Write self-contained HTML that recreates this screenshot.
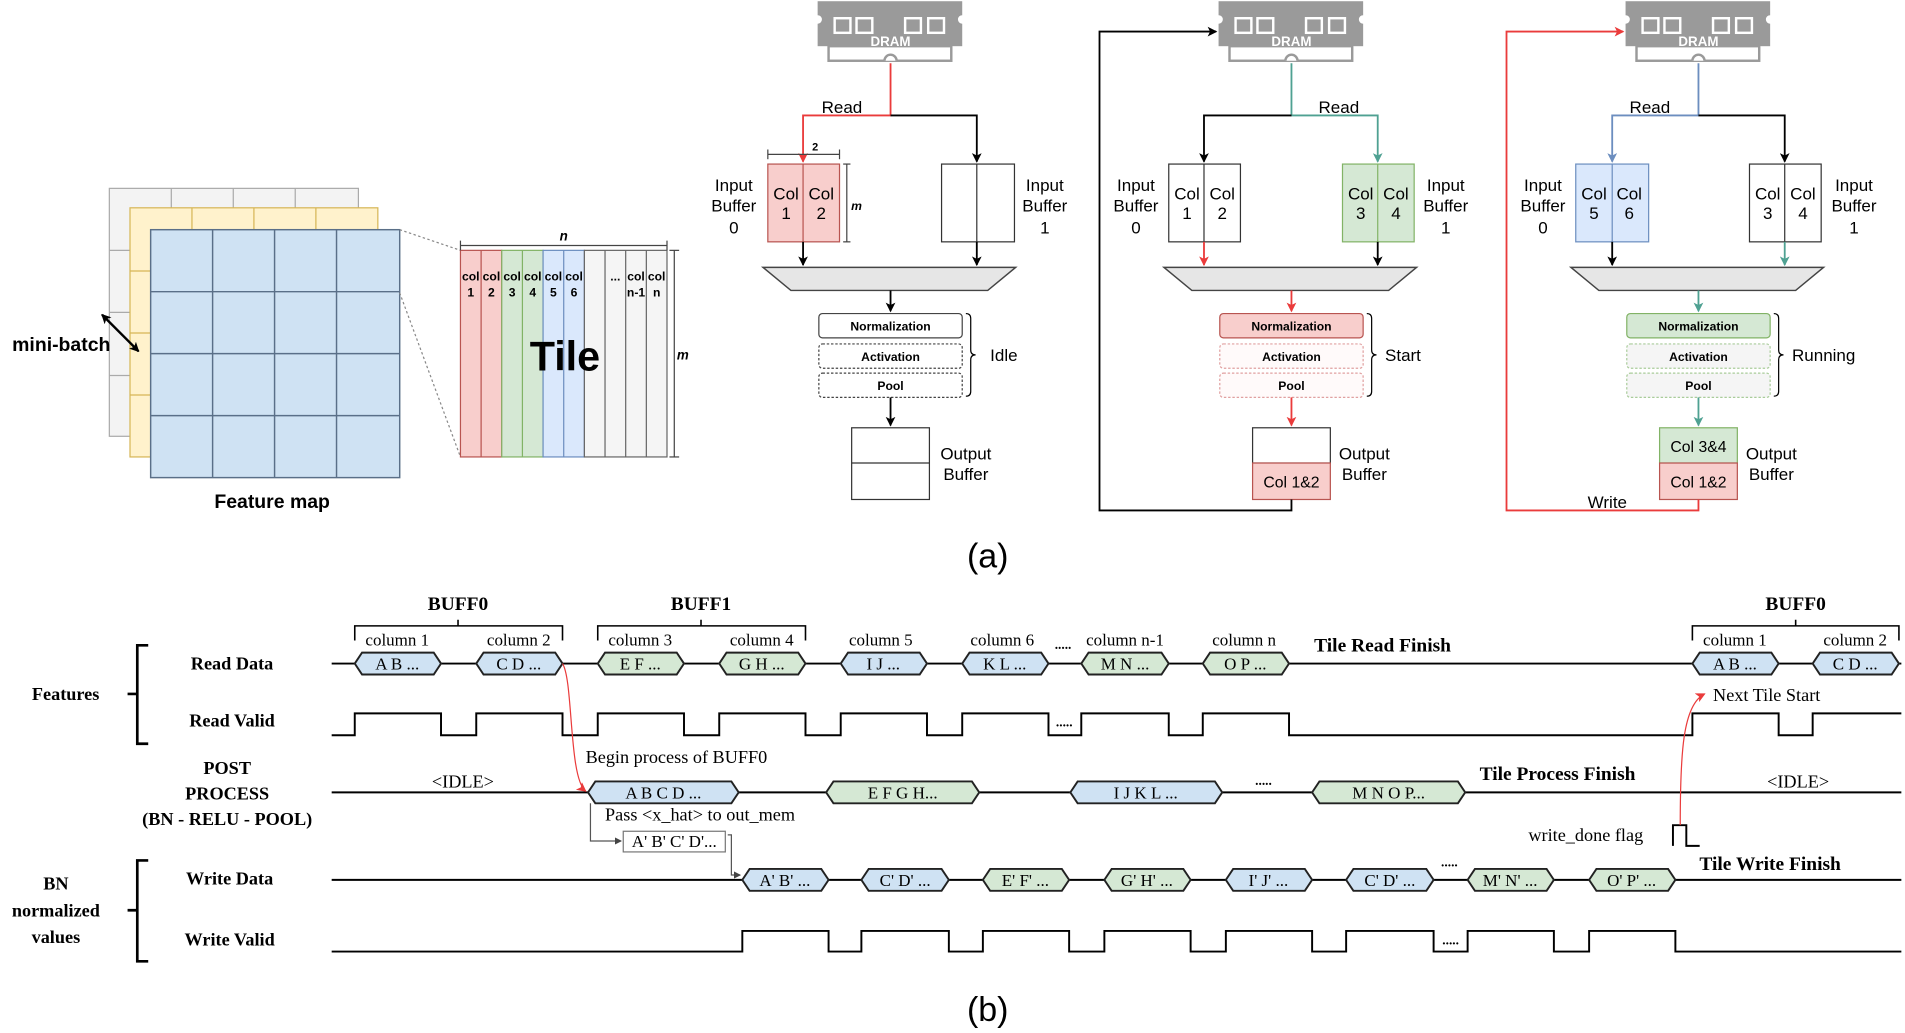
<!DOCTYPE html>
<html><head><meta charset="utf-8"><style>
html,body{margin:0;padding:0;background:#fff;}
svg{display:block;}
.s{font-family:"Liberation Sans",sans-serif;}
.t{font-family:"Liberation Serif",serif;}
</style></head><body>
<svg width="1905" height="1033" viewBox="0 0 1568 850" preserveAspectRatio="none" xmlns="http://www.w3.org/2000/svg">
<defs>
<marker id="ak" markerWidth="8" markerHeight="8" refX="7" refY="4" orient="auto" markerUnits="userSpaceOnUse"><path d="M0,0 L8,4 L0,8 L2,4z" fill="#000"/></marker>
<marker id="ak2" markerWidth="8" markerHeight="8" refX="7" refY="4" orient="auto-start-reverse" markerUnits="userSpaceOnUse"><path d="M0,0 L8,4 L0,8 L2,4z" fill="#000"/></marker>
<marker id="ar" markerWidth="8" markerHeight="8" refX="7" refY="4" orient="auto" markerUnits="userSpaceOnUse"><path d="M0,0 L8,4 L0,8 L2,4z" fill="#ea3b3b"/></marker>
<marker id="ag" markerWidth="8" markerHeight="8" refX="7" refY="4" orient="auto" markerUnits="userSpaceOnUse"><path d="M0,0 L8,4 L0,8 L2,4z" fill="#4fa192"/></marker>
<marker id="ab" markerWidth="8" markerHeight="8" refX="7" refY="4" orient="auto" markerUnits="userSpaceOnUse"><path d="M0,0 L8,4 L0,8 L2,4z" fill="#6c8ebf"/></marker>
<marker id="ay" markerWidth="6" markerHeight="6" refX="5" refY="3" orient="auto" markerUnits="userSpaceOnUse"><path d="M0,0 L6,3 L0,6z" fill="#444"/></marker>
<g id="chip">
<rect x="673" y="1" width="119" height="37" fill="#9a9a9a"/>
<circle cx="673" cy="16" r="3.5" fill="#fff"/><circle cx="792" cy="16" r="3.5" fill="#fff"/>
<rect x="682" y="38" width="101" height="12" fill="#fff" stroke="#9a9a9a" stroke-width="2"/>
<path d="M728,50 a5,5 0 0 1 10,0" fill="#fff" stroke="#9a9a9a" stroke-width="2"/>
<g fill="none" stroke="#fff" stroke-width="2"><rect x="687" y="15" width="13" height="12"/><rect x="705" y="15" width="13" height="12"/><rect x="745" y="15" width="13" height="12"/><rect x="764" y="15" width="13" height="12"/></g>
</g>
<g id="mux"><path d="M628,220 L836,220 L813,239 L651,239z" fill="#e6e6e6" stroke="#444" stroke-width="1.2"/></g>
</defs>

<!-- Feature map -->
<rect x="90" y="155" width="205" height="204" fill="#f3f3f3" stroke="#aaa"/>
<g stroke="#aaa"><line x1="141" y1="155" x2="141" y2="171"/><line x1="192" y1="155" x2="192" y2="171"/><line x1="243" y1="155" x2="243" y2="171"/><line x1="90" y1="206" x2="107" y2="206"/><line x1="90" y1="257" x2="107" y2="257"/><line x1="90" y1="309" x2="107" y2="309"/></g>
<rect x="107" y="171" width="204" height="205" fill="#fff2cc" stroke="#d6b656"/>
<g stroke="#d6b656"><line x1="158" y1="171" x2="158" y2="189"/><line x1="209" y1="171" x2="209" y2="189"/><line x1="260" y1="171" x2="260" y2="189"/><line x1="107" y1="223" x2="124" y2="223"/><line x1="107" y1="274" x2="124" y2="274"/><line x1="107" y1="325" x2="124" y2="325"/></g>
<rect x="124" y="189" width="205" height="204" fill="#cfe2f3" stroke="#5a6f88" stroke-width="1.2"/>
<g stroke="#5a6f88" stroke-width="1.2"><line x1="175" y1="189" x2="175" y2="393"/><line x1="226" y1="189" x2="226" y2="393"/><line x1="277" y1="189" x2="277" y2="393"/><line x1="124" y1="240" x2="329" y2="240"/><line x1="124" y1="291" x2="329" y2="291"/><line x1="124" y1="342" x2="329" y2="342"/></g>
<line x1="84" y1="259" x2="114" y2="289" stroke="#000" stroke-width="2" marker-start="url(#ak2)" marker-end="url(#ak2)"/>
<text x="10" y="289" class="s" font-size="16" font-weight="bold">mini-batch</text>
<text x="224" y="418" class="s" font-size="16" font-weight="bold" text-anchor="middle">Feature map</text>
<g stroke="#888" stroke-dasharray="2,2"><line x1="329" y1="189" x2="379" y2="206"/><line x1="329" y1="241" x2="379" y2="376"/></g>

<!-- Tile -->
<g stroke-width="1">
<rect x="379" y="206" width="34" height="170" fill="#f8cecc" stroke="#b85450"/><line x1="396" y1="206" x2="396" y2="376" stroke="#b85450"/>
<rect x="413" y="206" width="34" height="170" fill="#d5e8d4" stroke="#82b366"/><line x1="430" y1="206" x2="430" y2="376" stroke="#82b366"/>
<rect x="447" y="206" width="34" height="170" fill="#dae8fc" stroke="#6c8ebf"/><line x1="464" y1="206" x2="464" y2="376" stroke="#6c8ebf"/>
<rect x="481" y="206" width="68" height="170" fill="#f5f5f5" stroke="#666"/><line x1="498" y1="206" x2="498" y2="376" stroke="#666"/><line x1="515" y1="206" x2="515" y2="376" stroke="#666"/><line x1="532" y1="206" x2="532" y2="376" stroke="#666"/>
</g>
<g stroke="#444"><line x1="379" y1="202" x2="549" y2="202"/><line x1="379" y1="198" x2="379" y2="206"/><line x1="549" y1="198" x2="549" y2="206"/>
<line x1="555" y1="206" x2="555" y2="376"/><line x1="551" y1="206" x2="559" y2="206"/><line x1="551" y1="376" x2="559" y2="376"/></g>
<text x="464" y="198" class="s" font-size="11" font-weight="bold" font-style="italic" text-anchor="middle">n</text>
<text x="562" y="296" class="s" font-size="11" font-weight="bold" font-style="italic" text-anchor="middle">m</text>
<g class="s" font-size="10" font-weight="bold" text-anchor="middle">
<text x="387.5" y="231">col</text><text x="387.5" y="244">1</text>
<text x="404.5" y="231">col</text><text x="404.5" y="244">2</text>
<text x="421.5" y="231">col</text><text x="421.5" y="244">3</text>
<text x="438.5" y="231">col</text><text x="438.5" y="244">4</text>
<text x="455.5" y="231">col</text><text x="455.5" y="244">5</text>
<text x="472.5" y="231">col</text><text x="472.5" y="244">6</text>
<text x="506.5" y="231">...</text>
<text x="523.5" y="231">col</text><text x="523.5" y="244">n-1</text>
<text x="540.5" y="231">col</text><text x="540.5" y="244">n</text>
</g>
<text x="465" y="305" class="s" font-size="34" font-weight="bold" text-anchor="middle">Tile</text>

<!-- Panel 1 -->
<use href="#chip"/>
<text x="733" y="38" class="s" font-size="11" font-weight="bold" fill="#fff" text-anchor="middle">DRAM</text>
<polyline points="733,52 733,95 661,95 661,133" fill="none" stroke="#ea3b3b" stroke-width="1.5" marker-end="url(#ar)"/>
<polyline points="733,95 804,95 804,133" fill="none" stroke="#000" stroke-width="1.5" marker-end="url(#ak)"/>
<text x="693" y="93" class="s" font-size="14" text-anchor="middle">Read</text>
<rect x="632" y="135" width="59" height="64" fill="#f8cecc" stroke="#b85450"/><line x1="661" y1="135" x2="661" y2="199" stroke="#b85450"/>
<g stroke="#444"><line x1="632" y1="127" x2="691" y2="127"/><line x1="632" y1="123" x2="632" y2="131"/><line x1="691" y1="123" x2="691" y2="131"/><line x1="697" y1="135" x2="697" y2="199"/><line x1="694" y1="135" x2="700" y2="135"/><line x1="694" y1="199" x2="700" y2="199"/></g>
<text x="671" y="124" class="s" font-size="9" font-weight="bold" text-anchor="middle">2</text>
<text x="705" y="173" class="s" font-size="10" font-weight="bold" font-style="italic" text-anchor="middle">m</text>
<rect x="775" y="135" width="60" height="64" fill="#fff" stroke="#333"/><line x1="804" y1="135" x2="804" y2="199" stroke="#333"/>
<line x1="661" y1="199" x2="661" y2="218" stroke="#000" stroke-width="1.5" marker-end="url(#ak)"/>
<line x1="804" y1="199" x2="804" y2="218" stroke="#000" stroke-width="1.5" marker-end="url(#ak)"/>
<use href="#mux"/>
<line x1="733" y1="239" x2="733" y2="256" stroke="#000" stroke-width="1.5" marker-end="url(#ak)"/>
<rect x="674" y="258" width="118" height="20" rx="3" fill="#fff" stroke="#444"/>
<rect x="674" y="283" width="118" height="20" rx="3" fill="#fff" stroke="#444" stroke-dasharray="2,1.5"/>
<rect x="674" y="307" width="118" height="20" rx="3" fill="#fff" stroke="#444" stroke-dasharray="2,1.5"/>
<line x1="733" y1="327" x2="733" y2="350" stroke="#000" stroke-width="1.5" marker-end="url(#ak)"/>
<rect x="701" y="352" width="64" height="59" fill="#fff" stroke="#333"/><line x1="701" y1="381" x2="765" y2="381" stroke="#333"/>
<path d="M795,258 q4,0 4,4 v26 q0,4 4,4 q-4,0 -4,4 v26 q0,4 -4,4" fill="none" stroke="#000"/>
<text x="815" y="297" class="s" font-size="14">Idle</text>

<!-- Panel 2 -->
<use href="#chip" transform="translate(330,0)"/>
<text x="1063" y="38" class="s" font-size="11" font-weight="bold" fill="#fff" text-anchor="middle">DRAM</text>
<polyline points="1063,52 1063,95 1134,95 1134,133" fill="none" stroke="#4fa192" stroke-width="1.5" marker-end="url(#ag)"/>
<polyline points="1063,95 991,95 991,133" fill="none" stroke="#000" stroke-width="1.5" marker-end="url(#ak)"/>
<text x="1102" y="93" class="s" font-size="14" text-anchor="middle">Read</text>
<rect x="962" y="135" width="59" height="64" fill="#fff" stroke="#333"/><line x1="991" y1="135" x2="991" y2="199" stroke="#333"/>
<rect x="1105" y="135" width="59" height="64" fill="#d5e8d4" stroke="#82b366"/><line x1="1134" y1="135" x2="1134" y2="199" stroke="#82b366"/>
<line x1="991" y1="199" x2="991" y2="218" stroke="#ea3b3b" stroke-width="1.5" marker-end="url(#ar)"/>
<line x1="1134" y1="199" x2="1134" y2="218" stroke="#000" stroke-width="1.5" marker-end="url(#ak)"/>
<use href="#mux" transform="translate(330,0)"/>
<line x1="1063" y1="239" x2="1063" y2="256" stroke="#ea3b3b" stroke-width="1.5" marker-end="url(#ar)"/>
<rect x="1004" y="258" width="118" height="20" rx="3" fill="#f8cecc" stroke="#b85450"/>
<rect x="1004" y="283" width="118" height="20" rx="3" fill="#fffafa" stroke="#e0a0a0" stroke-dasharray="2,1.5"/>
<rect x="1004" y="307" width="118" height="20" rx="3" fill="#fffafa" stroke="#e0a0a0" stroke-dasharray="2,1.5"/>
<line x1="1063" y1="327" x2="1063" y2="350" stroke="#ea3b3b" stroke-width="1.5" marker-end="url(#ar)"/>
<rect x="1031" y="352" width="64" height="29" fill="#fff" stroke="#333"/>
<rect x="1031" y="381" width="64" height="30" fill="#f8cecc" stroke="#b85450"/>
<path d="M1125,258 q4,0 4,4 v26 q0,4 4,4 q-4,0 -4,4 v26 q0,4 -4,4" fill="none" stroke="#000"/>
<text x="1140" y="297" class="s" font-size="14">Start</text>
<polyline points="1063,411 1063,420 905,420 905,26 1001,26" fill="none" stroke="#000" stroke-width="1.5" marker-end="url(#ak)"/>

<!-- Panel 3 -->
<use href="#chip" transform="translate(665,0)"/>
<text x="1398" y="38" class="s" font-size="11" font-weight="bold" fill="#fff" text-anchor="middle">DRAM</text>
<polyline points="1398,52 1398,95 1327,95 1327,133" fill="none" stroke="#6c8ebf" stroke-width="1.5" marker-end="url(#ab)"/>
<polyline points="1398,95 1469,95 1469,133" fill="none" stroke="#000" stroke-width="1.5" marker-end="url(#ak)"/>
<text x="1358" y="93" class="s" font-size="14" text-anchor="middle">Read</text>
<rect x="1297" y="135" width="60" height="64" fill="#dae8fc" stroke="#6c8ebf"/><line x1="1327" y1="135" x2="1327" y2="199" stroke="#6c8ebf"/>
<rect x="1440" y="135" width="59" height="64" fill="#fff" stroke="#333"/><line x1="1469" y1="135" x2="1469" y2="199" stroke="#333"/>
<line x1="1327" y1="199" x2="1327" y2="218" stroke="#000" stroke-width="1.5" marker-end="url(#ak)"/>
<line x1="1469" y1="199" x2="1469" y2="218" stroke="#4fa192" stroke-width="1.5" marker-end="url(#ag)"/>
<use href="#mux" transform="translate(665,0)"/>
<line x1="1398" y1="239" x2="1398" y2="256" stroke="#4fa192" stroke-width="1.5" marker-end="url(#ag)"/>
<rect x="1339" y="258" width="118" height="20" rx="3" fill="#d5e8d4" stroke="#82b366"/>
<rect x="1339" y="283" width="118" height="20" rx="3" fill="#f5f5f5" stroke="#a9cc9a" stroke-dasharray="2,1.5"/>
<rect x="1339" y="307" width="118" height="20" rx="3" fill="#f5f5f5" stroke="#a9cc9a" stroke-dasharray="2,1.5"/>
<line x1="1398" y1="327" x2="1398" y2="350" stroke="#4fa192" stroke-width="1.5" marker-end="url(#ag)"/>
<rect x="1366" y="352" width="64" height="29" fill="#d5e8d4" stroke="#82b366"/>
<rect x="1366" y="381" width="64" height="30" fill="#f8cecc" stroke="#b85450"/>
<path d="M1460,258 q4,0 4,4 v26 q0,4 4,4 q-4,0 -4,4 v26 q0,4 -4,4" fill="none" stroke="#000"/>
<text x="1475" y="297" class="s" font-size="14">Running</text>
<polyline points="1398,411 1398,420 1240,420 1240,26 1336,26" fill="none" stroke="#ea3b3b" stroke-width="1.5" marker-end="url(#ar)"/>
<text x="1323" y="418" class="s" font-size="14" text-anchor="middle">Write</text>

<!-- panel texts -->
<g class="s" font-size="14" text-anchor="middle">
<text x="604" y="157">Input</text><text x="604" y="174">Buffer</text><text x="604" y="192">0</text>
<text x="860" y="157">Input</text><text x="860" y="174">Buffer</text><text x="860" y="192">1</text>
<text x="935" y="157">Input</text><text x="935" y="174">Buffer</text><text x="935" y="192">0</text>
<text x="1190" y="157">Input</text><text x="1190" y="174">Buffer</text><text x="1190" y="192">1</text>
<text x="1270" y="157">Input</text><text x="1270" y="174">Buffer</text><text x="1270" y="192">0</text>
<text x="1526" y="157">Input</text><text x="1526" y="174">Buffer</text><text x="1526" y="192">1</text>
<text x="795" y="378">Output</text><text x="795" y="395">Buffer</text>
<text x="1123" y="378">Output</text><text x="1123" y="395">Buffer</text>
<text x="1458" y="378">Output</text><text x="1458" y="395">Buffer</text>
<text x="647" y="164">Col</text><text x="647" y="180">1</text><text x="676" y="164">Col</text><text x="676" y="180">2</text>
<text x="977" y="164">Col</text><text x="977" y="180">1</text><text x="1006" y="164">Col</text><text x="1006" y="180">2</text>
<text x="1120" y="164">Col</text><text x="1120" y="180">3</text><text x="1149" y="164">Col</text><text x="1149" y="180">4</text>
<text x="1312" y="164">Col</text><text x="1312" y="180">5</text><text x="1341" y="164">Col</text><text x="1341" y="180">6</text>
<text x="1455" y="164">Col</text><text x="1455" y="180">3</text><text x="1484" y="164">Col</text><text x="1484" y="180">4</text>
<text x="1063" y="401" font-size="13">Col 1&amp;2</text>
<text x="1398" y="372" font-size="13">Col 3&amp;4</text>
<text x="1398" y="401" font-size="13">Col 1&amp;2</text>
</g>
<g class="s" font-size="10" font-weight="bold" text-anchor="middle">
<text x="733" y="272">Normalization</text><text x="733" y="297">Activation</text><text x="733" y="321">Pool</text>
<text x="1063" y="272">Normalization</text><text x="1063" y="297">Activation</text><text x="1063" y="321">Pool</text>
<text x="1398" y="272">Normalization</text><text x="1398" y="297">Activation</text><text x="1398" y="321">Pool</text>
</g>
<text x="813" y="467" class="s" font-size="28" text-anchor="middle">(a)</text>

<!-- Timing (b) -->
<g class="t" font-weight="bold" font-size="15" text-anchor="middle">
<text x="54" y="576">Features</text>
<text x="191" y="551">Read Data</text>
<text x="191" y="598">Read Valid</text>
<text x="187" y="637">POST</text>
<text x="187" y="658">PROCESS</text>
<text x="187" y="679">(BN - RELU - POOL)</text>
<text x="46" y="732">BN</text>
<text x="46" y="754">normalized</text>
<text x="46" y="776">values</text>
<text x="189" y="728">Write Data</text>
<text x="189" y="778">Write Valid</text>
<text x="377" y="502" font-size="16">BUFF0</text>
<text x="577" y="502" font-size="16">BUFF1</text>
<text x="1478" y="502" font-size="16">BUFF0</text>
<text x="1138" y="536" font-size="16">Tile Read Finish</text>
<text x="1282" y="642" font-size="16">Tile Process Finish</text>
<text x="1457" y="716" font-size="16">Tile Write Finish</text>
</g>
<g fill="none" stroke="#000" stroke-width="2.2">
<path d="M122,531 h-9 v81 h9 M113,571 h-8"/>
<path d="M122,708 h-9 v83 h9 M113,749 h-8"/>
</g>
<g fill="none" stroke="#000" stroke-width="1.3">
<path d="M292,527 v-12 h171 v12 M377,515 v-5"/>
<path d="M492,527 v-12 h171 v12 M577,515 v-5"/>
<path d="M1393,527 v-12 h170 v12 M1478,515 v-5"/>
</g>
<g stroke="#000" stroke-width="1.6" fill="none">
<line x1="273" y1="546" x2="1565" y2="546"/>
<line x1="273" y1="652" x2="1565" y2="652"/>
<line x1="273" y1="724" x2="1565" y2="724"/>
<polyline points="273,605 292,605 292,587 363,587 363,605 392,605 392,587 463,587 463,605 492,605 492,587 563,587 563,605 592,605 592,587 663,587 663,605 692,605 692,587 763,587 763,605 792,605 792,587 863,587 863,605 890,605 890,587 962,587 962,605 990,605 990,587 1061,587 1061,605 1393,605 1393,587 1464,587 1464,605 1492,605 1492,587 1565,587"/>
<polyline points="273,783 611,783 611,766 682,766 682,783 709,783 709,766 781,766 781,783 809,783 809,766 880,766 880,783 909,783 909,766 980,766 980,783 1009,783 1009,766 1080,766 1080,783 1108,783 1108,766 1180,766 1180,783 1208,783 1208,766 1279,766 1279,783 1308,783 1308,766 1379,766 1379,783 1565,783"/>
<polyline points="1377,696 1377,679 1388,679 1388,696 1399,696"/>
</g>
<g stroke="#222" stroke-width="1.6">
<path fill="#cfe2f3" d="M292,546 l6,-9 h59 l6,9 l-6,9 h-59z"/>
<path fill="#cfe2f3" d="M392,546 l6,-9 h59 l6,9 l-6,9 h-59z"/>
<path fill="#d5e8d4" d="M492,546 l6,-9 h59 l6,9 l-6,9 h-59z"/>
<path fill="#d5e8d4" d="M592,546 l6,-9 h59 l6,9 l-6,9 h-59z"/>
<path fill="#cfe2f3" d="M692,546 l6,-9 h59 l6,9 l-6,9 h-59z"/>
<path fill="#cfe2f3" d="M792,546 l6,-9 h59 l6,9 l-6,9 h-59z"/>
<path fill="#d5e8d4" d="M890,546 l6,-9 h60 l6,9 l-6,9 h-60z"/>
<path fill="#d5e8d4" d="M990,546 l6,-9 h59 l6,9 l-6,9 h-59z"/>
<path fill="#cfe2f3" d="M1393,546 l6,-9 h59 l6,9 l-6,9 h-59z"/>
<path fill="#cfe2f3" d="M1492,546 l6,-9 h59 l6,9 l-6,9 h-59z"/>
<path fill="#cfe2f3" d="M484,652 l6,-9 h112 l6,9 l-6,9 h-112z"/>
<path fill="#d5e8d4" d="M680,652 l6,-9 h114 l6,9 l-6,9 h-114z"/>
<path fill="#cfe2f3" d="M881,652 l6,-9 h113 l6,9 l-6,9 h-113z"/>
<path fill="#d5e8d4" d="M1080,652 l6,-9 h114 l6,9 l-6,9 h-114z"/>
<path fill="#cfe2f3" d="M611,724 l6,-9 h59 l6,9 l-6,9 h-59z"/>
<path fill="#cfe2f3" d="M709,724 l6,-9 h60 l6,9 l-6,9 h-60z"/>
<path fill="#d5e8d4" d="M809,724 l6,-9 h59 l6,9 l-6,9 h-59z"/>
<path fill="#d5e8d4" d="M909,724 l6,-9 h59 l6,9 l-6,9 h-59z"/>
<path fill="#cfe2f3" d="M1009,724 l6,-9 h59 l6,9 l-6,9 h-59z"/>
<path fill="#cfe2f3" d="M1108,724 l6,-9 h60 l6,9 l-6,9 h-60z"/>
<path fill="#d5e8d4" d="M1208,724 l6,-9 h59 l6,9 l-6,9 h-59z"/>
<path fill="#d5e8d4" d="M1308,724 l6,-9 h59 l6,9 l-6,9 h-59z"/>
</g>
<rect x="513" y="684" width="84" height="17" fill="#fff" stroke="#777"/>
<polyline points="486,661 486,692 511,692" fill="none" stroke="#555" stroke-width="1" marker-end="url(#ay)"/>
<polyline points="599,687 602,687 602,720 609,720" fill="none" stroke="#555" stroke-width="1" marker-end="url(#ay)"/>
<g class="t" font-size="14" text-anchor="middle">
<text x="327" y="551">A B ...</text><text x="427" y="551">C D ...</text><text x="527" y="551">E F ...</text><text x="627" y="551">G H ...</text>
<text x="727" y="551">I J ...</text><text x="827" y="551">K L ...</text><text x="926" y="551">M N ...</text><text x="1025" y="551">O P ...</text>
<text x="1428" y="551">A B ...</text><text x="1527" y="551">C D ...</text>
<text x="546" y="657">A B C D ...</text><text x="743" y="657">E F G H...</text><text x="943" y="657">I J K L ...</text><text x="1143" y="657">M N O P...</text>
<text x="646" y="729">A' B' ...</text><text x="745" y="729">C' D' ...</text><text x="844" y="729">E' F' ...</text><text x="944" y="729">G' H' ...</text>
<text x="1044" y="729">I' J' ...</text><text x="1144" y="729">C' D' ...</text><text x="1243" y="729">M' N' ...</text><text x="1343" y="729">O' P' ...</text>
<text x="555" y="697">A' B' C' D'...</text>
<text x="327" y="531">column 1</text><text x="427" y="531">column 2</text><text x="527" y="531">column 3</text><text x="627" y="531">column 4</text>
<text x="725" y="531">column 5</text><text x="825" y="531">column 6</text><text x="926" y="531">column n-1</text><text x="1024" y="531">column n</text>
<text x="1428" y="531">column 1</text><text x="1527" y="531">column 2</text>
<text x="381" y="648" font-size="15">&lt;IDLE&gt;</text><text x="1480" y="648" font-size="15">&lt;IDLE&gt;</text>
<text x="875" y="534" font-weight="bold" font-size="11">.....</text>
<text x="876" y="598" font-weight="bold" font-size="11">.....</text>
<text x="1040" y="646" font-weight="bold" font-size="11">.....</text>
<text x="1193" y="713" font-weight="bold" font-size="11">.....</text>
<text x="1194" y="777" font-weight="bold" font-size="11">.....</text>
</g>
<g class="t" font-size="15">
<text x="482" y="628">Begin process of BUFF0</text>
<text x="498" y="675">Pass &lt;x_hat&gt; to out_mem</text>
<text x="1258" y="692">write_done flag</text>
<text x="1410" y="577">Next Tile Start</text>
</g>
<path d="M463,546 C472,560 468,640 482,651" fill="none" stroke="#ea3b3b" stroke-width="1" marker-end="url(#ar)"/>
<path d="M1383,679 C1383,620 1385,580 1403,571" fill="none" stroke="#ea3b3b" stroke-width="1" marker-end="url(#ar)"/>
<text x="813" y="840" class="s" font-size="28" text-anchor="middle">(b)</text>
</svg>
</body></html>
